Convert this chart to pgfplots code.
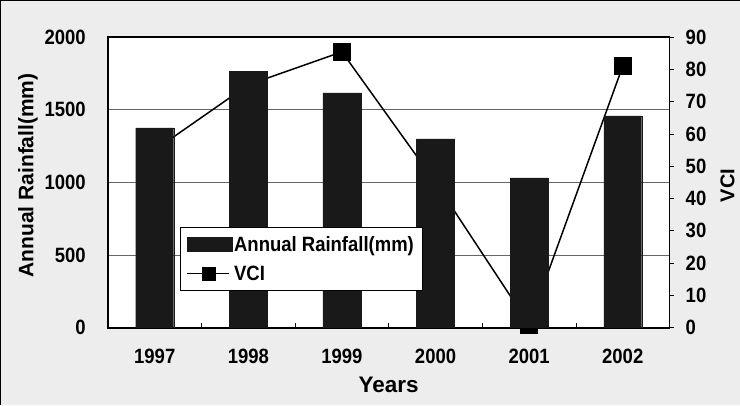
\documentclass[border=0pt]{standalone}
\usepackage{pgfplots}
\pgfplotsset{compat=1.18}
\usepackage{fontspec}
\setmainfont{Liberation Sans}
\usepackage{graphicx}
\newcommand{\st}[1]{\scalebox{1}[1.12]{#1}}
\begin{document}
\begin{tikzpicture}[x=1pt,y=1pt]
\fill[black!7] (0,0) rectangle (740,405);
\draw[black, line width=1pt] (0.5,0) -- (0.5,404.5) -- (740,404.5);
\pgfplotsset{
  base/.style={scale only axis, width=562pt, height=291pt,
    at={(108pt,77pt)}, anchor=south west, xmin=-0.5, xmax=5.5,
    font=\bfseries\fontsize{18.5}{21}\selectfont,
    /pgf/number format/assume math mode=true},
}
% axis 1: frame, grid, left ticks, labels
\begin{axis}[base, ymin=0, ymax=2000,
  axis background/.style={fill=white},
  axis line style={line width=1.8pt},
  ytick={0,500,...,2000}, ytick pos=left,
  yticklabel={\st{\pgfmathprintnumber[1000 sep={}]{\tick}}},
  yticklabel style={anchor=east, inner sep=0pt, xshift=-22pt},
  major tick length=0pt,
  ymajorgrids, grid style={black!60, line width=0.8pt},
  xtick={0,...,5}, xtick pos=bottom,
  xticklabels={\st{1997},\st{1998},\st{1999},\st{2000},\st{2001},\st{2002}},
  xticklabel style={anchor=center, yshift=-29pt},
  minor xtick={0.5,1.5,...,4.5}, minor tick length=5pt,
  minor tick style={black, line width=0.8pt}, tick align=inside,
  xlabel={Years},
  xlabel style={at={(rel axis cs:0.5,0)}, anchor=center, yshift=-57pt,
    font=\bfseries\fontsize{22.5}{24}\selectfont},
  ylabel={Annual Rainfall(mm)},
  ylabel style={at={([xshift=-80pt,yshift=7pt]rel axis cs:0,0.5)}, anchor=center,
    font=\bfseries\fontsize{21}{24}\selectfont},
]
\end{axis}
% axis 2: VCI line
\begin{axis}[base, ymin=0, ymax=90,
  axis y line*=right, axis x line=none,
  axis line style={line width=1.8pt},
  ytick={0,10,...,90},
  yticklabel={\st{\pgfmathprintnumber{\tick}}},
  yticklabel style={anchor=west, inner sep=0pt, xshift=12pt},
  tick style={black, line width=0.8pt}, major tick length=4pt, tick align=outside,
  ylabel={VCI},
  ylabel style={at={([xshift=58pt,yshift=-3pt]rel axis cs:1,0.5)}, anchor=center,
    font=\bfseries\fontsize{20}{22}\selectfont},
]
\addplot[black, line width=1.5pt, mark=square*, mark size=8.5pt, mark options={solid}]
  coordinates {(0,55) (1,75.2) (2,85.4) (3,45) (4,1) (5,81)};
\end{axis}
% axis 3: rainfall bars and legend
\begin{axis}[base, ymin=0, ymax=2000, hide axis,
  ybar, bar width=38pt,
  legend style={at={(rel axis cs:0.128,0.347)}, anchor=north west,
    draw=black, line width=0.6pt, fill=white, inner xsep=6pt, inner ysep=7pt,
    row sep=9pt,
    font=\bfseries\fontsize{18.5}{21}\selectfont,
    nodes={inner sep=2pt}, cells={anchor=west}},
]
\addplot[fill=black!90, draw=black!90,
  legend image code/.code={\fill[black!90] (0pt,-7pt) rectangle (45pt,7pt);}]
  coordinates {(0,1375) (1,1766) (2,1615) (3,1299) (4,1031) (5,1457)};
\addlegendentry{\st{Annual Rainfall(mm)}}
\addlegendimage{legend image code/.code={
  \draw[black, line width=1.5pt] (0pt,0pt) -- (42pt,0pt);
  \fill[black] (15pt,-6.5pt) rectangle (28pt,6.5pt);
  \path (45pt,0pt);}}
\addlegendentry{\st{VCI}}
\end{axis}
\end{tikzpicture}
\end{document}
